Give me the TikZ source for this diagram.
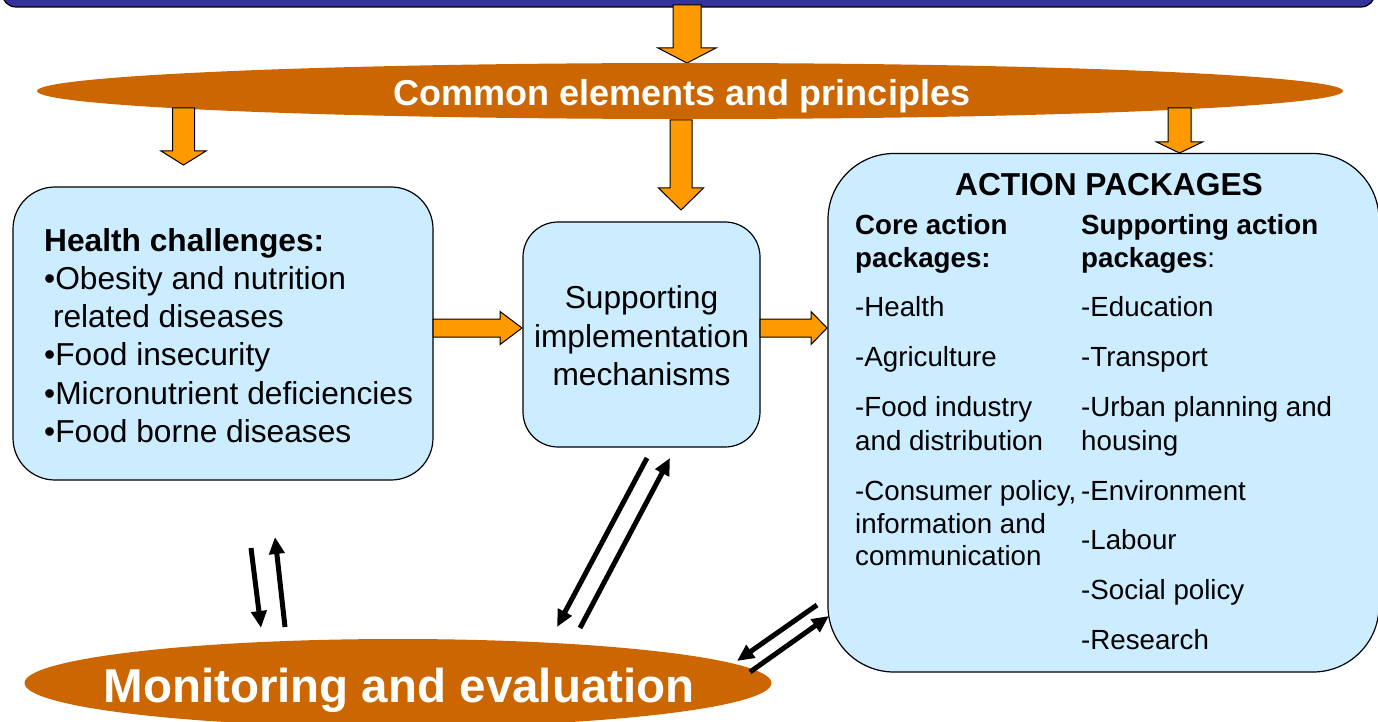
\documentclass[tikz,border=0pt]{standalone}
\usepackage{fontspec}
\setmainfont{Liberation Sans}
\usetikzlibrary{arrows.meta,shapes.geometric}
\definecolor{lightbox}{HTML}{CCECFF}
\definecolor{orangearrow}{HTML}{FF9900}
\definecolor{brownell}{HTML}{CC6600}
\definecolor{navybar}{HTML}{333399}
\tikzset{
  boxstyle/.style={draw=black, line width=1.2pt, fill=lightbox, inner sep=0pt},
  ellstyle/.style={ellipse, fill=brownell, inner sep=0pt},
  blockarrow/.style={draw=black, line width=1pt, fill=orangearrow, line join=miter},
  txt/.style={inner sep=0pt, anchor=base west, font=\fontsize{31.7}{38}\selectfont},
  stxt/.style={inner sep=0pt, anchor=base west, font=\fontsize{27.7}{33}\selectfont},
  blackarrow/.style={line width=5pt, -{Triangle[length=17pt,width=15pt]}}
}
% down block arrow: center x, top y, head base y, tip y, shaft half, head half
\newcommand{\downblock}[6]{%
  \draw[blockarrow] (#1-#5,#2) -- (#1+#5,#2) -- (#1+#5,#3) -- (#1+#6,#3) -- (#1,#4) -- (#1-#6,#3) -- (#1-#5,#3) -- cycle;}
% right block arrow: left x, head base x, tip x, center y, shaft half, head half
\newcommand{\rightblock}[6]{%
  \draw[blockarrow] (#1,#4-#5) -- (#2,#4-#5) -- (#2,#4-#6) -- (#3,#4) -- (#2,#4+#6) -- (#2,#4+#5) -- (#1,#4+#5) -- cycle;}
\begin{document}
\begin{tikzpicture}[x=1pt,y=-1pt]
\useasboundingbox (0,0) rectangle (1378,722);
\clip (0,0) rectangle (1378,722);

% top bar
\draw[fill=navybar, line width=1.2pt, rounded corners=14pt] (2,-40) rectangle (1375,7);

% top arrow
\downblock{687}{5}{48}{63}{14}{29}

% common elements ellipse
\node[ellstyle, minimum width=1306pt, minimum height=56pt] (cep) at (690,91) {};
\node[inner sep=0pt, anchor=base, text=white, font=\bfseries\fontsize{36}{40}\selectfont] (ceptxt) at (682,106) {Common elements and principles};

% down arrows from ellipse
\downblock{183.5}{108}{151}{165}{11}{22.5}
\downblock{681}{120}{188}{210}{11}{22.5}
\downblock{1179.5}{108}{142}{153}{11.5}{23}

% boxes
\node[boxstyle, rounded corners=42pt, minimum width=420pt, minimum height=293pt] (hc) at (223,333.5) {};
\node[boxstyle, rounded corners=35pt, minimum width=237pt, minimum height=225pt] (sim) at (641.5,334.5) {};
\node[boxstyle, rounded corners=66pt, minimum width=551pt, minimum height=518.5pt] (ap) at (1103.5,412.75) {};

% horizontal arrows
\rightblock{433}{500}{522}{328}{9}{16.5}
\rightblock{760}{811}{827}{328}{9}{16.5}

% health challenges text
\node[txt, font=\bfseries\fontsize{31.7}{38}\selectfont] (hc0) at (44,251) {Health challenges:};
\node[txt] (hc1) at (44,289) {•Obesity and nutrition};
\node[txt] (hc2) at (44,327) {\ related diseases};
\node[txt] (hc3) at (44,365) {•Food insecurity};
\node[txt] (hc4) at (44,404) {•Micronutrient deficiencies};
\node[txt] (hc5) at (44,442) {•Food borne diseases};

% supporting implementation text
\node[txt, anchor=base] (sim1) at (641.5,308) {Supporting};
\node[txt, anchor=base] (sim2) at (641.5,347) {implementation};
\node[txt, anchor=base] (sim3) at (641.5,385) {mechanisms};

% action packages text
\node[txt, anchor=base, font=\bfseries\fontsize{31.7}{38}\selectfont] (aptitle) at (1109,196) {ACTION PACKAGES};
\node[stxt, font=\bfseries\fontsize{27.7}{33}\selectfont] (c0a) at (855,234) {Core action};
\node[stxt, font=\bfseries\fontsize{27.7}{33}\selectfont] (c0b) at (855,267) {packages:};
\node[stxt] (c1) at (855,316) {-Health};
\node[stxt] (c2) at (855,366) {-Agriculture};
\node[stxt] (c3a) at (855,416) {-Food industry};
\node[stxt] (c3b) at (855,450) {and distribution};
\node[stxt] (c4a) at (855,500) {-Consumer policy,};
\node[stxt] (c4b) at (855,533) {information and};
\node[stxt] (c4c) at (855,565) {communication};

\node[stxt, font=\bfseries\fontsize{27.7}{33}\selectfont] (s0a) at (1081,234) {Supporting action};
\node[stxt] (s0b) at (1081,267) {\textbf{packages}:};
\node[stxt] (s1) at (1081,316) {-Education};
\node[stxt] (s2) at (1081,366) {-Transport};
\node[stxt] (s3a) at (1081,416) {-Urban planning and};
\node[stxt] (s3b) at (1081,450) {housing};
\node[stxt] (s4) at (1081,500) {-Environment};
\node[stxt] (s5) at (1081,549) {-Labour};
\node[stxt] (s6) at (1081,599) {-Social policy};
\node[stxt] (s7) at (1081,649) {-Research};

% monitoring ellipse
\node[ellstyle, minimum width=747pt, minimum height=88pt] (me) at (398,683) {};
\node[inner sep=0pt, anchor=base, text=white, font=\bfseries\fontsize{47.5}{52}\selectfont] (metxt) at (399,702) {Monitoring and evaluation};

% black arrows
\coordinate (la1) at (251,548); \coordinate (la2) at (261,628);
\coordinate (lb1) at (285,627); \coordinate (lb2) at (275,537);
\coordinate (ma1) at (647,458); \coordinate (ma2) at (557,627);
\coordinate (mb1) at (580,628); \coordinate (mb2) at (670,458);
\coordinate (ra1) at (817,605); \coordinate (ra2) at (737,661);
\coordinate (rb1) at (750,672); \coordinate (rb2) at (829,616);
\draw[blackarrow] (la1) -- (la2);
\draw[blackarrow] (lb1) -- (lb2);
\draw[blackarrow] (ma1) -- (ma2);
\draw[blackarrow] (mb1) -- (mb2);
\draw[blackarrow] (ra1) -- (ra2);
\draw[blackarrow] (rb1) -- (rb2);
\end{tikzpicture}
\end{document}
